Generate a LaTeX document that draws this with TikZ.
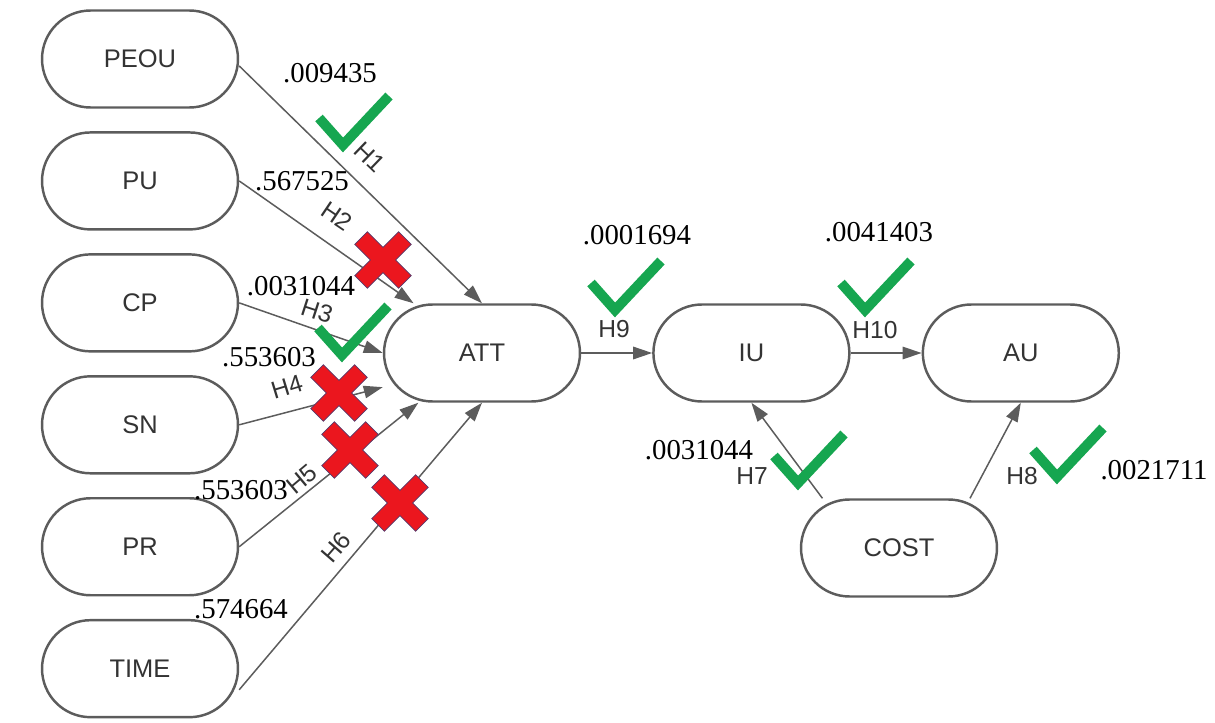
\documentclass[tikz,border=0pt]{standalone}
\usepackage{fontspec}
\setmainfont{Liberation Serif}
\setsansfont{Liberation Sans}
\usetikzlibrary{arrows.meta,positioning}
\definecolor{linegray}{RGB}{92,92,92}
\definecolor{okgreen}{RGB}{22,166,80}
\definecolor{nored}{RGB}{235,22,30}
\definecolor{noedge}{RGB}{85,60,110}
\tikzset{construct/.style={draw=linegray,line width=1.4pt,rounded corners=0.97cm,minimum width=3.92cm,minimum height=1.94cm,
  font=\sffamily\fontsize{14.5}{17}\selectfont,text=black!80},
 link/.style={-{Triangle[length=0.38cm,width=0.25cm]},draw=linegray,fill=linegray,line width=0.85pt},
 hyp/.style={font=\sffamily\fontsize{14}{16}\selectfont,text=black!80,inner sep=0pt},
 coef/.style={font=\fontsize{16.4}{19}\selectfont,inner sep=0pt},
 okmark/.pic={\draw[okgreen,line width=0.2cm] (-24,-27)--(0,0)--(46,-49);},
 xmark/.pic={\filldraw[fill=nored,draw=noedge,line width=0.4pt,rotate=45]
   (9,9)--(31,9)--(31,-9)--(9,-9)--(9,-31)--(-9,-31)--(-9,-9)--(-31,-9)--(-31,9)--(-9,9)--(-9,31)--(9,31)--cycle;}}

\begin{document}
\begin{tikzpicture}[x=0.02cm,y=-0.02cm,node distance=4.5mm and 14.2mm]
\useasboundingbox (0,0) rectangle (1215,723);
% constructs
\node[construct] (peou) at (140,59) {PEOU};
\node[construct,below=of peou] (pu) {PU};
\node[construct,below=of pu] (cp) {CP};
\node[construct,below=of cp] (sn) {SN};
\node[construct,below=of sn] (pr) {PR};
\node[construct,below=of pr] (time) {TIME};
\node[construct] (att) at (482,353) {ATT};
\node[construct,right=of att] (iu) {IU};
\node[construct,right=of iu] (au) {AU};
\node[construct] (cost) at (899,548) {COST};

% paths
\draw[link] (peou.-4)--(att.north);
\draw[link] (pu.east)--(att.144);
\draw[link] (cp.east)--(att.west);
\draw[link] (sn.east)--(att.199);
\draw[link] (pr.east)--(att.218);
\draw[link] (time.-12)--(att.south);
\draw[link] (att.east)--(iu.west);
\draw[link] (iu.east)--(au.west);
\draw[link] (cost.147)--(iu.south);
\draw[link] (cost.35)--(au.south);

% hypotheses
\node[hyp,rotate=-44] (h1) at (370,157) {H1};
\node[hyp,rotate=-34] (h2) at (337,216) {H2};
\node[hyp,rotate=-18] (h3) at (317,311) {H3};
\node[hyp,rotate=17] (h4) at (287,387) {H4};
\node[hyp,rotate=40] (h5) at (302,479) {H5};
\node[hyp,rotate=49] (h6) at (336,547) {H6};
\node[hyp] (h7) at (752,476) {H7};
\node[hyp] (h8) at (1022,476) {H8};
\node[hyp] (h9) at (614,329) {H9};
\node[hyp] (h10) at (875,330) {H10};

% p values
\node[coef] (p1) at (330,73) {.009435};
\node[coef] (p2) at (302,181) {.567525};
\node[coef] (p3) at (301,286) {.0031044};
\node[coef] (p4) at (269,357) {.553603};
\node[coef] (p5) at (241,490) {.553603};
\node[coef] (p6) at (241,609) {.574664};
\node[coef] (p7) at (699,450) {.0031044};
\node[coef] (p8) at (1154,470) {.0021711};
\node[coef] (p9) at (637,235) {.0001694};
\node[coef] (p10) at (879,232) {.0041403};

% supported / rejected
\pic at (343,145) {okmark};
\pic at (342,355) {okmark};
\pic at (615,310) {okmark};
\pic at (865,310) {okmark};
\pic at (798,483) {okmark};
\pic at (1057,477) {okmark};
\pic at (383,260) {xmark};
\pic at (339,393) {xmark};
\pic at (350,450) {xmark};
\pic at (400,503) {xmark};
\end{tikzpicture}
\end{document}
